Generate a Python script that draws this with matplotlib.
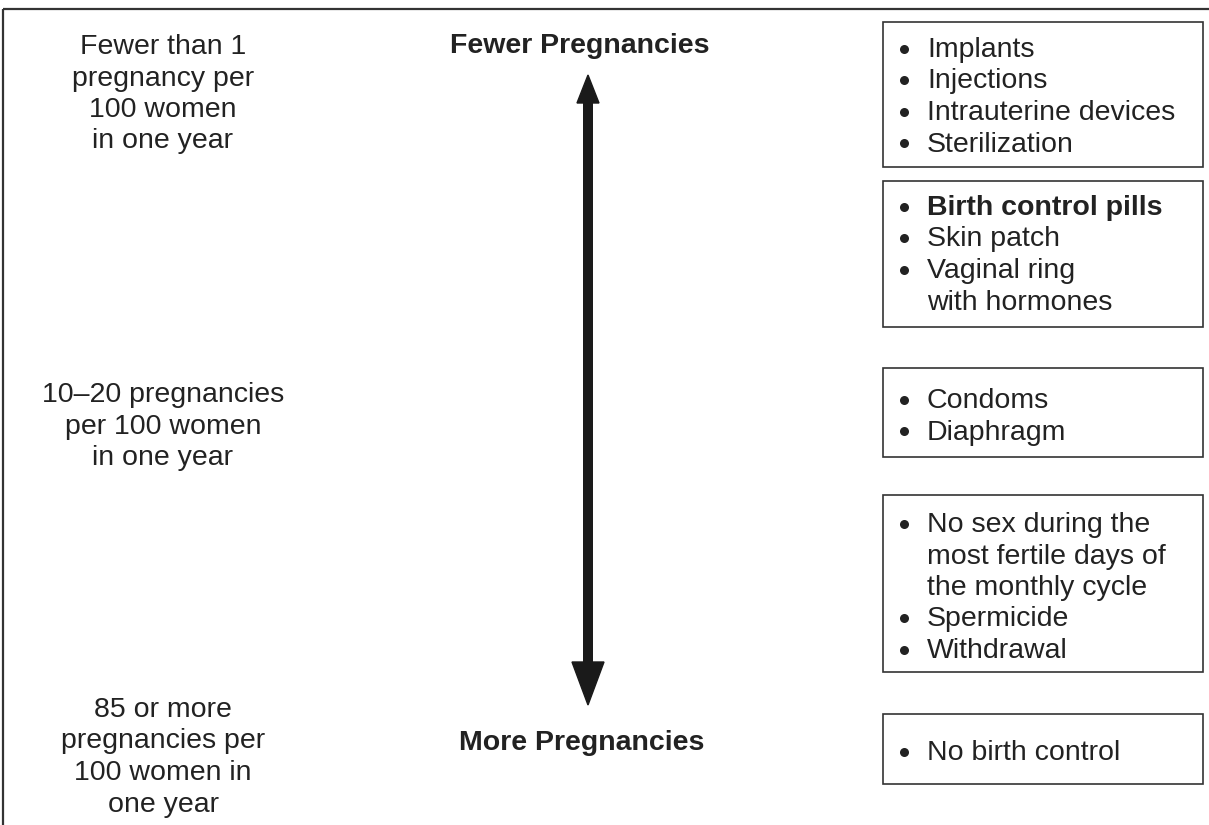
import matplotlib
matplotlib.use("Agg")
import matplotlib.pyplot as plt
from matplotlib.patches import Rectangle, Polygon

plt.rcParams['font.family'] = ['Liberation Sans', 'DejaVu Sans']

# pregnancy rates, left column
rate_labels = [
    ["Fewer than 1", "pregnancy per", "100 women", "in one year"],
    ["10\u201320 pregnancies", "per 100 women", "in one year"],
    ["85 or more", "pregnancies per", "100 women in", "one year"],
]

# methods, right column (one list per box, "\n" = wrapped line without bullet)
method_groups = [
    ["Implants", "Injections", "Intrauterine devices", "Sterilization"],
    ["Birth control pills", "Skin patch", "Vaginal ring\nwith hormones"],
    ["Condoms", "Diaphragm"],
    ["No sex during the\nmost fertile days of\nthe monthly cycle", "Spermicide", "Withdrawal"],
    ["No birth control"],
]
bold_items = ["Birth control pills"]

axis_top = "Fewer Pregnancies"
axis_bottom = "More Pregnancies"

# layout (pixels)
W, H = 1209, 825
fs = 20.5
step = 31.5
col = "#222222"
rate_x = 163
rate_y0 = [44, 392, 707]
box_left, box_right = 883, 1203
box_tops = [22, 181, 368, 495, 714]
box_bottoms = [167, 327, 457, 672, 784]
box_text_y0 = [47, 205, 398, 522, 750]
bullet_x, item_x = 904, 927
arrow_x = 588

fig = plt.figure(figsize=(W / 100, H / 100), dpi=100)
ax = fig.add_axes([0, 0, 1, 1])
ax.set_xlim(0, W)
ax.set_ylim(H, 0)
ax.axis("off")

# outer frame (cropped: only top and left edges visible)
ax.plot([3, W], [9, 9], color="#333333", lw=1.6, solid_capstyle="butt")
ax.plot([3, 3], [9, H], color="#333333", lw=1.6, solid_capstyle="butt")

def put(x, yc, s, ha="center", weight="normal", size=fs):
    # yc is the visual middle of the glyphs; convert to a baseline
    ax.text(x, yc + 10, s, ha=ha, va="baseline", fontsize=size,
            color=col, fontweight=weight)

for lines, y0 in zip(rate_labels, rate_y0):
    for i, s in enumerate(lines):
        put(rate_x, y0 + i * step, s)

for items, top, bot, y0 in zip(method_groups, box_tops, box_bottoms, box_text_y0):
    ax.add_patch(Rectangle((box_left, top), box_right - box_left, bot - top,
                           fill=False, edgecolor="#333333", lw=1.2))
    row = 0
    for item in items:
        w = "bold" if item in bold_items else "normal"
        for j, s in enumerate(item.split("\n")):
            y = y0 + row * step
            if j == 0:
                ax.plot(bullet_x, y + 1.5, "o", color=col, markersize=6.5,
                        markeredgewidth=0)
            put(item_x, y, s, ha="left", weight=w)
            row += 1

# double-headed arrow
put(580, 43, axis_top, weight="bold")
put(582, 740, axis_bottom, weight="bold")
ax.plot([arrow_x, arrow_x], [100, 665], color="#1a1a1a", lw=7.2, solid_capstyle="butt")
ax.add_patch(Polygon([(arrow_x, 75), (arrow_x - 11, 103), (arrow_x + 11, 103)],
                     closed=True, color="#1a1a1a"))
ax.add_patch(Polygon([(arrow_x, 705), (arrow_x - 16, 662), (arrow_x + 16, 662)],
                     closed=True, color="#1a1a1a"))

fig.savefig("out.png", dpi=100, facecolor="white")
